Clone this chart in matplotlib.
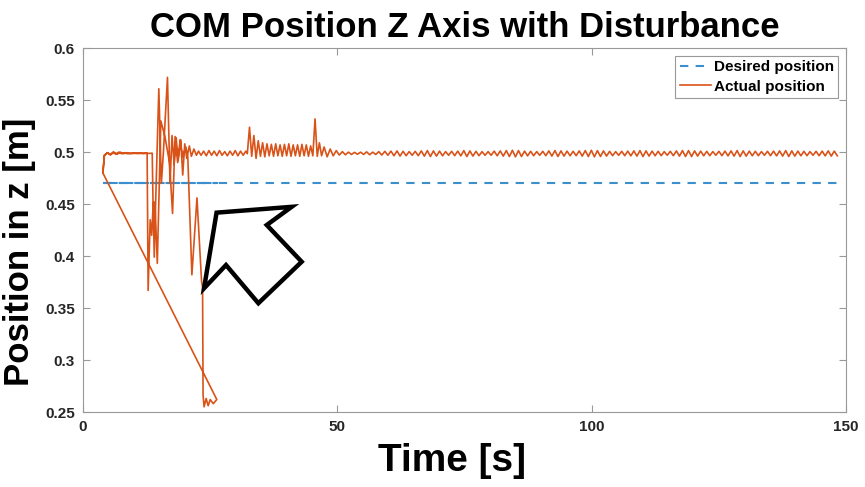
import numpy as np
import matplotlib.pyplot as plt
from matplotlib.patches import Polygon

plt.rcParams['font.family'] = ['Liberation Sans', 'DejaVu Sans']
plt.rcParams['font.weight'] = 'bold'

# desired height (same reference used by both runs, hence the overlap at the start)
des_t = [3.9, 26.3, 3.9, 148.3]
des_z = [0.47, 0.47, 0.47, 0.47]

# standing phase before the push (shared by both runs)
start_t = [3.9]
start_z = [0.48]
flat_z = [0.497, 0.4995, 0.4975, 0.5, 0.498, 0.5, 0.4985, 0.4995, 0.4985,
          0.499, 0.4988, 0.499, 0.4987, 0.499, 0.4988, 0.499]

# run A: push at ~12.7 s, robot falls around 23.5 s
fallA_t = [12.8, 13.2, 13.5, 13.8, 14.0, 14.2, 14.6, 15.3, 16.1, 17.0, 17.6,
           18.1, 18.6, 19.1, 19.6, 20.2, 20.6, 21.4, 22.4, 23.3, 23.5, 23.6,
           23.8, 24.2, 24.6, 25.0, 25.6, 26.3]
fallA_z = [0.367, 0.435, 0.42, 0.451, 0.399, 0.444, 0.393, 0.53, 0.515, 0.49,
           0.441, 0.515, 0.49, 0.512, 0.495, 0.505, 0.495, 0.382, 0.456, 0.376,
           0.37, 0.266, 0.255, 0.263, 0.256, 0.262, 0.258, 0.262]

# run B: push at ~13.7 s, recovers
pushB_t = [13.8, 14.0, 14.15, 14.9, 15.4, 15.8, 16.6, 17.1, 17.5, 17.9, 18.3,
           18.7, 19.2, 19.6, 20.0, 20.4, 20.9, 21.3, 21.8, 22.3, 22.7]
pushB_z = [0.44, 0.452, 0.43, 0.561, 0.47, 0.50, 0.572, 0.47, 0.516, 0.488,
           0.514, 0.492, 0.512, 0.478, 0.508, 0.494, 0.506, 0.496, 0.503, 0.497,
           0.501]

seg1_z = [0.497, 0.501, 0.4965, 0.5015, 0.497, 0.501, 0.4965, 0.5015, 0.497,
          0.5005, 0.4965, 0.501, 0.497, 0.5015, 0.4965, 0.501, 0.497, 0.501]

seg2_z = [0.4985, 0.524, 0.496, 0.516, 0.494, 0.511, 0.496, 0.509, 0.4955,
          0.508, 0.4965, 0.5075, 0.496, 0.508, 0.4965, 0.507, 0.496, 0.5075,
          0.4965, 0.508, 0.496, 0.507, 0.4965, 0.507, 0.496, 0.5075, 0.4965,
          0.507, 0.496, 0.506, 0.4965, 0.532, 0.496, 0.509, 0.4965]

seg3_peaks = [0.505, 0.503, 0.5015, 0.5005, 0.5, 0.4998, 0.5, 0.5003, 0.5, 0.5005, 0.5008,
              0.501, 0.5012, 0.5008, 0.5005, 0.5008, 0.5012, 0.5015, 0.5012, 0.501, 0.5005,
              0.5008, 0.501, 0.5015, 0.5012, 0.5008, 0.5005, 0.5005, 0.501, 0.5012, 0.5015,
              0.5018, 0.5015, 0.501, 0.5008, 0.5005, 0.5008, 0.5012, 0.5015, 0.5012, 0.501,
              0.5008, 0.5012, 0.5015, 0.5018, 0.5015, 0.5012, 0.5008, 0.5005, 0.5008, 0.501,
              0.5012, 0.5015, 0.5012, 0.501, 0.5008, 0.5005, 0.5008, 0.5012, 0.5015, 0.5015,
              0.5012, 0.501, 0.5008, 0.5005, 0.5008, 0.501, 0.5012, 0.5015, 0.5012, 0.501,
              0.5008, 0.5005, 0.5008, 0.501, 0.5012, 0.5015, 0.5012, 0.501, 0.5008, 0.5005,
              0.5008, 0.501, 0.5012, 0.501]
seg3_troughs = [0.4955, 0.4965, 0.4972, 0.4975, 0.4978, 0.498, 0.4978, 0.4975, 0.4978, 0.4972, 0.497,
                0.4965, 0.4962, 0.4966, 0.497, 0.4966, 0.4962, 0.4958, 0.4962, 0.4965, 0.497,
                0.4966, 0.4964, 0.4958, 0.4962, 0.4966, 0.497, 0.497, 0.4965, 0.4962, 0.4958,
                0.4955, 0.4958, 0.4964, 0.4966, 0.497, 0.4966, 0.4962, 0.4958, 0.4962, 0.4965,
                0.4966, 0.4962, 0.4958, 0.4955, 0.4958, 0.4962, 0.4966, 0.497, 0.4966, 0.4964,
                0.4962, 0.4958, 0.4962, 0.4965, 0.4966, 0.497, 0.4966, 0.4962, 0.4958, 0.4958,
                0.4962, 0.4965, 0.4966, 0.497, 0.4966, 0.4964, 0.4962, 0.4958, 0.4962, 0.4965,
                0.4966, 0.497, 0.4966, 0.4964, 0.4962, 0.4958, 0.4962, 0.4965, 0.4966, 0.497,
                0.4966, 0.4964, 0.4962, 0.4965]

xticks = [0, 50, 100, 150]
yticks = [0.25, 0.3, 0.35, 0.4, 0.45, 0.5, 0.55, 0.6]
ytick_labels = ['0.25', '0.3', '0.35', '0.4', '0.45', '0.5', '0.55', '0.6']

# assemble the actual trace: run A, then run B restarting at t=3.9
flatA_t = np.linspace(4.2, 12.6, len(flat_z))
flatB_t = np.linspace(4.2, 13.6, len(flat_z))
seg1_t = np.linspace(23.2, 32.0, len(seg1_z))
seg2_t = np.linspace(32.3, 46.9, len(seg2_z))
seg3_z = np.empty(len(seg3_peaks) + len(seg3_troughs))
seg3_z[0::2] = seg3_peaks
seg3_z[1::2] = seg3_troughs
seg3_t = np.linspace(47.4, 148.3, len(seg3_z))

act_t = np.concatenate([start_t, flatA_t, fallA_t, start_t, flatB_t, pushB_t,
                        seg1_t, seg2_t, seg3_t])
act_z = np.concatenate([start_z, flat_z, fallA_z, start_z, flat_z, pushB_z,
                        seg1_z, seg2_z, seg3_z])

fig = plt.figure(figsize=(8.65, 4.87), dpi=100)
ax = fig.add_axes([0.096, 0.154, 0.882, 0.747])

ax.plot(des_t, des_z, '--', color='#3a8fcc', lw=1.5, dashes=(4, 3.5), label='Desired position')
ax.plot(act_t, act_z, '-', color='#d95319', lw=1.2, label='Actual position')

ax.set_xlim(0, 150)
ax.set_ylim(0.25, 0.6)
ax.set_xticks(xticks)
ax.set_xticklabels([str(v) for v in xticks])
ax.set_yticks(yticks)
ax.set_yticklabels(ytick_labels)
ax.tick_params(direction='in', length=5, width=0.8, top=True, right=True,
               labelsize=11, colors='#999999', labelcolor='#262626', pad=6)
for s in ax.spines.values():
    s.set_color('#999999')
    s.set_linewidth(0.8)

ax.set_title('COM Position Z Axis with Disturbance', fontsize=25, fontweight='bold', pad=8)
ax.set_xlabel('Time [s]', fontsize=28, fontweight='bold')
ax.set_ylabel('Position in z [m]', fontsize=25, fontweight='bold')
ax.xaxis.set_label_coords(0.484, -0.085)
ax.yaxis.set_label_coords(-0.062, 0.44)

leg = ax.legend(loc='upper right', fontsize=11, frameon=True, fancybox=False,
                framealpha=1, edgecolor='#999999', handlelength=2.0,
                handletextpad=0.2, labelspacing=0.35, borderpad=0.3,
                borderaxespad=0.5)
leg.get_frame().set_linewidth(0.8)

# hollow block arrow pointing at the disturbance
arrow_pts = [(0.175, 0.548), (0.2735, 0.564), (0.2408, 0.514), (0.2866, 0.413),
             (0.2298, 0.299), (0.1874, 0.404), (0.1586, 0.340)]
ax.add_patch(Polygon(arrow_pts, closed=True, transform=ax.transAxes,
                     facecolor='white', edgecolor='black', lw=3.2,
                     joinstyle='miter', zorder=5))

fig.savefig('out.png', dpi=100)
